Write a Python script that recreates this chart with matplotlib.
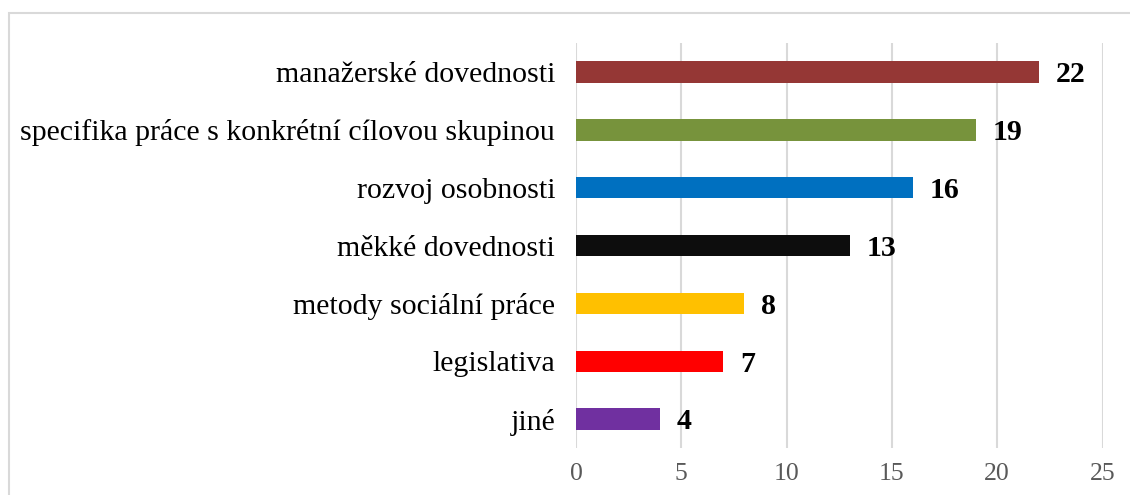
import matplotlib.pyplot as plt
import matplotlib.patches as patches

categories = ["manažerské dovednosti",
              "specifika práce s konkrétní cílovou skupinou",
              "rozvoj osobnosti",
              "měkké dovednosti",
              "metody sociální práce",
              "legislativa",
              "jiné"]
values = [22, 19, 16, 13, 8, 7, 4]
colors = ["#953735", "#77933C", "#0070C0", "#0D0D0D", "#FFC000", "#FF0000", "#7030A0"]

plt.rcParams["font.family"] = ["Liberation Serif", "DejaVu Serif"]

fig = plt.figure(figsize=(11.3, 4.95), dpi=100)
ax = fig.add_axes([0.5097, 0.0949, 0.466, 0.8182])

# figure frame
fig.patches.append(patches.Rectangle((9 / 1130, -0.1), 1.2, 1 - 13 / 495 + 0.1,
                                     transform=fig.transFigure, fill=False,
                                     edgecolor="#D9D9D9", linewidth=1.5))

ypos = list(range(len(categories)))[::-1]
ax.barh(ypos, values, height=0.37, color=colors, zorder=3)

for y, v in zip(ypos, values):
    ax.annotate(str(v), (v, y), xytext=(12, -2), textcoords="offset points",
                va="center", ha="left", fontsize=21.5, fontweight="bold")

ax.set_xlim(0, 25)
ax.set_ylim(-0.5, len(categories) - 0.5)
ax.set_xticks([0, 5, 10, 15, 20, 25])
ax.set_yticks(ypos)
ax.set_yticklabels(categories, fontsize=21.5)
ax.tick_params(axis="x", labelsize=18.5, colors="#595959", length=0, pad=11)
ax.tick_params(axis="y", length=0, pad=15)
ax.grid(axis="x", color="#D9D9D9", linewidth=1.5, zorder=0)
for s in ax.spines.values():
    s.set_visible(False)

plt.savefig("out.png")
plt.close()
